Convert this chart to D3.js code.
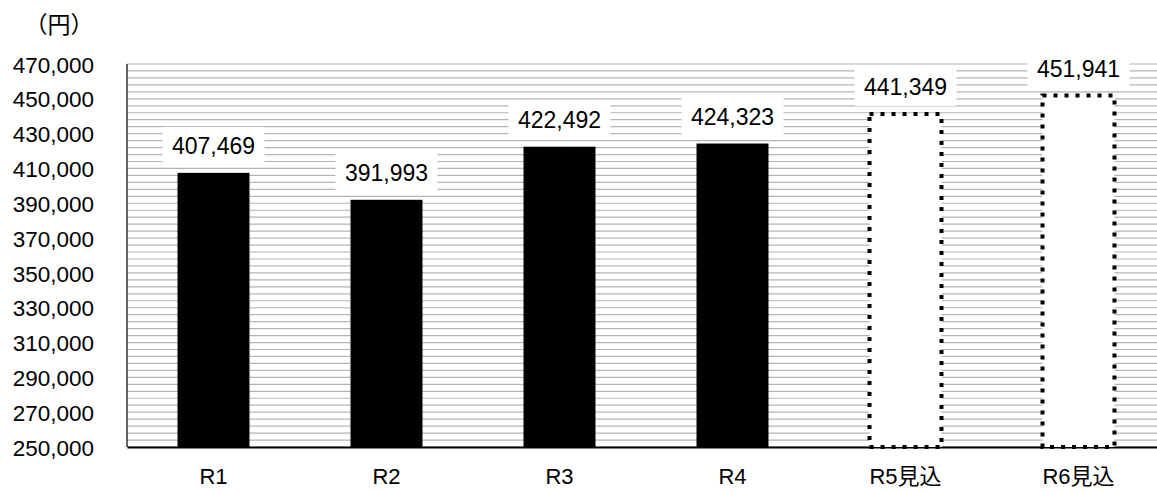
<!DOCTYPE html>
<html>
<head>
<meta charset="utf-8">
<script src="https://cdn.jsdelivr.net/npm/d3@7"></script>
<style>
  body { margin: 0; background: #fff; }
  text { font-family: "Liberation Sans", Arial, "Noto Sans CJK JP", sans-serif; fill: #000; }
</style>
</head>
<body>
<div id="chart"></div>
<script>
// chart values
var categories = ["R1", "R2", "R3", "R4", "R5見込", "R6見込"];
var values = [407469, 391993, 422492, 424323, 441349, 451941];
var isEstimate = [false, false, false, false, true, true];
var yTicks = d3.range(250000, 470001, 20000);
var unitLabel = "（円）";

var W = 1157, H = 492;
var margin = {top: 64, left: 127};
var plotW = 173 * categories.length;
var plotH = 383;

var svg = d3.select("#chart").append("svg")
    .attr("width", W)
    .attr("height", H);

var g = svg.append("g")
    .attr("transform", "translate(" + margin.left + "," + margin.top + ")");

var x = d3.scaleBand().domain(categories).range([0, plotW]).paddingInner(0.584).paddingOuter(0.292);
var y = d3.scaleLinear().domain([250000, 470000]).range([plotH, 0]);

var data = categories.map(function(c, i) {
    return {cat: c, value: values[i], est: isEstimate[i]};
});

// striped background (horizontal lines)
g.append("g").selectAll("line")
    .data(d3.range(250000, 470001, 4000))
  .enter().append("line")
    .attr("x1", 0).attr("x2", plotW)
    .attr("y1", function(d) { return y(d); })
    .attr("y2", function(d) { return y(d); })
    .attr("stroke", "#b4b4b4")
    .attr("stroke-width", 1.2);

// y axis
var yAxis = d3.axisLeft(y)
    .tickValues(yTicks)
    .tickSize(0)
    .tickPadding(33)
    .tickFormat(d3.format(","));
var ya = g.append("g").call(yAxis);
ya.select(".domain").remove();
ya.selectAll("text").attr("font-size", 22.5).attr("dy", "0.36em");

g.append("line")
    .attr("x1", 0).attr("x2", 0)
    .attr("y1", 0).attr("y2", plotH)
    .attr("stroke", "#333").attr("stroke-width", 1.5);

// x axis
var xAxis = d3.axisBottom(x).tickSize(0).tickPadding(21);
var xa = g.append("g").attr("transform", "translate(0," + plotH + ")").call(xAxis);
xa.select(".domain").attr("stroke", "#000").attr("stroke-width", 2);
xa.selectAll("text").attr("font-size", 22);

// bars
var bars = g.append("g").selectAll("rect")
    .data(data)
  .enter().append("rect")
    .attr("x", function(d) { return x(d.cat); })
    .attr("width", x.bandwidth())
    .attr("y", function(d) { return y(d.value); })
    .attr("height", function(d) { return plotH - y(d.value); })
    .attr("fill", function(d) { return d.est ? "#fff" : "#000"; })
    .attr("stroke", function(d) { return d.est ? "#000" : "none"; })
    .attr("stroke-width", 4)
    .attr("stroke-dasharray", function(d) { return d.est ? "4,7" : null; });

// value labels with white boxes
var labels = g.append("g").selectAll("g")
    .data(data)
  .enter().append("g")
    .attr("transform", function(d) {
        return "translate(" + (x(d.cat) + x.bandwidth() / 2) + "," + (y(d.value) - 27) + ")";
    });

labels.append("rect")
    .attr("x", -51).attr("y", -19)
    .attr("width", 102).attr("height", 38)
    .attr("fill", "#fff");

labels.append("text")
    .attr("text-anchor", "middle")
    .attr("dy", "0.36em")
    .attr("font-size", 23)
    .text(function(d) { return d3.format(",")(d.value); });

// unit
svg.append("text")
    .attr("x", 59).attr("y", 25)
    .attr("dy", "0.36em")
    .attr("text-anchor", "middle")
    .attr("font-size", 23)
    .text(unitLabel);
</script>
</body>
</html>
